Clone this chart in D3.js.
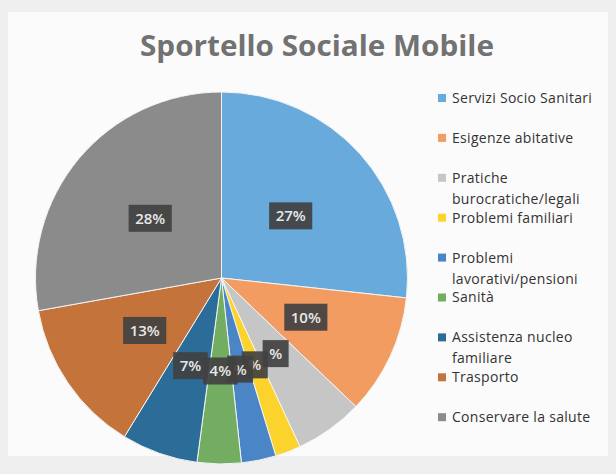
<!DOCTYPE html>
<html>
<head>
<meta charset="utf-8">
<script src="https://cdn.jsdelivr.net/npm/d3@7"></script>
<style>
  html, body { margin: 0; padding: 0; background: #f2f2f2; }
  svg { display: block; }
</style>
</head>
<body>
<svg id="chart" width="616" height="474"></svg>
<script>
// ---- data ----
const title = "Sportello Sociale Mobile";
const categories = [
  "Servizi Socio Sanitari",
  "Esigenze abitative",
  "Pratiche burocratiche/legali",
  "Problemi familiari",
  "Problemi lavorativi/pensioni",
  "Sanità",
  "Assistenza nucleo familiare",
  "Trasporto",
  "Conservare la salute"
];
const legendLines = [
  ["Servizi Socio Sanitari"],
  ["Esigenze abitative"],
  ["Pratiche", "burocratiche/legali"],
  ["Problemi familiari"],
  ["Problemi", "lavorativi/pensioni"],
  ["Sanità"],
  ["Assistenza nucleo", "familiare"],
  ["Trasporto"],
  ["Conservare la salute"]
];
const values = [26.6, 10.4, 5.9, 2.2, 3.0, 3.8, 6.6, 13.4, 27.7];
const labelTexts = ["27%", "10%", "%", "%", "%", "4%", "7%", "13%", "28%"];
const colors = ["#69aadd", "#f29c62", "#c6c6c6", "#fcd22c", "#4a86c6", "#72ad62", "#2b6d98", "#c4733a", "#8b8b8b"];

// ---- layout ----
const W = 616, H = 474;
const cx = 221.5, cy = 278, R = 186;
const svg = d3.select("#chart");

// background / frame
svg.append("rect").attr("x", 0).attr("y", 0).attr("width", W).attr("height", H).attr("fill", "#efefef");
svg.append("rect").attr("x", 8).attr("y", 12).attr("width", 600).attr("height", 444).attr("fill", "#fbfbfb");

// title
svg.append("text")
  .attr("x", 317).attr("y", 56)
  .attr("text-anchor", "middle")
  .attr("font-family", "'Open Sans', 'Noto Sans', sans-serif")
  .attr("font-weight", 700)
  .attr("font-size", 28)
  .attr("fill", "#727272")
  .attr("textLength", 354)
  .attr("lengthAdjust", "spacingAndGlyphs")
  .text(title);

// pie
const pie = d3.pie().sort(null).value(d => d.v).startAngle(0).endAngle(2 * Math.PI);
const data = categories.map((c, i) => ({ c, v: values[i], col: colors[i], lab: labelTexts[i] }));
const arcs = pie(data);
const arc = d3.arc().innerRadius(0).outerRadius(R);

const g = svg.append("g").attr("transform", `translate(${cx},${cy})`);
g.selectAll("path.slice").data(arcs).enter().append("path")
  .attr("class", "slice")
  .attr("d", arc)
  .attr("fill", d => d.data.col)
  .attr("stroke", "#f4f4f4")
  .attr("stroke-width", 1);

// data labels
const lg = g.selectAll("g.lab").data(arcs).enter().append("g")
  .attr("class", "lab")
  .attr("transform", d => { const [x, y] = arc.centroid(d); return `translate(${x},${y})`; });
lg.append("rect").attr("class", "box");
lg.append("text")
  .attr("text-anchor", "middle")
  .attr("dy", "0.36em")
  .attr("font-family", "'Open Sans', 'Noto Sans', sans-serif")
  .attr("font-weight", 600)
  .attr("font-size", 15)
  .attr("fill", "#e8e8e8")
  .text(d => d.data.lab);
lg.each(function () {
  const t = d3.select(this).select("text").node().getComputedTextLength();
  const w = t + 13, h = 27;
  d3.select(this).select("rect")
    .attr("x", -w / 2).attr("y", -h / 2).attr("width", w).attr("height", h)
    .attr("fill", "#414141").attr("fill-opacity", 0.92);
});

// legend
const legX = 438, legY0 = 98, slot = 39.9, lineH = 21;
const leg = svg.append("g");
legendLines.forEach((lines, i) => {
  const y = legY0 + slot * i;
  leg.append("rect")
    .attr("x", legX).attr("y", y - 4).attr("width", 8).attr("height", 8)
    .attr("fill", colors[i]);
  lines.forEach((ln, j) => {
    leg.append("text")
      .attr("x", legX + 14).attr("y", y + j * lineH)
      .attr("dy", "0.35em")
      .attr("font-family", "'Open Sans', 'Noto Sans', sans-serif")
      .attr("font-size", 14)
      .attr("letter-spacing", 0.3)
      .attr("fill", "#333333")
      .text(ln);
  });
});
</script>
</body>
</html>
